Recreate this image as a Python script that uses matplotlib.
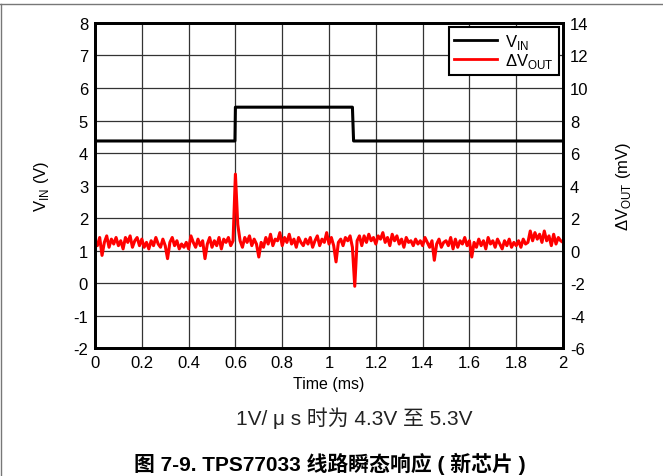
import numpy as np
import matplotlib
matplotlib.use("Agg")
import matplotlib.pyplot as plt
from matplotlib.lines import Line2D

plt.rcParams['font.family'] = ['Liberation Sans', 'Noto Sans CJK SC', 'DejaVu Sans']
plt.rcParams['mathtext.fontset'] = 'custom'
plt.rcParams['mathtext.rm'] = 'Liberation Sans'
plt.rcParams['axes.unicode_minus'] = False

# VIN step (V)
vin_t = [0.0, 0.598, 0.6, 1.1, 1.105, 2.0]
vin_v = [4.37, 4.37, 5.41, 5.41, 4.37, 4.37]

# delta VOUT (mV), sampled every 0.01 ms from 0 to 2 ms
dvout = [
    0.6, 0.3, 0.8, -0.3, 0.5, 0.9, 0.2, 0.7, 0.4, 0.8,
    0.3, 0.6, 0.1, 0.8, 0.5, 0.9, 0.2, 0.6, 0.8, 0.3,
    0.7, 0.2, 0.5, 0.1, 0.6, 0.3, 0.8, 0.4, 0.2, 0.7,
    0.3, -0.5, 0.5, 0.8, 0.3, 0.6, 0.1, 0.4, 0.2, 0.5,
    0.1, 0.9, 0.5, 0.2, 0.7, 0.3, 0.6, -0.5, 0.4, 0.8,
    0.2, 0.6, 0.3, 0.8, 0.1, 0.7, 0.5, 0.8, 0.3, 0.6,
    4.7, 1.6, 0.6, 0.2, 0.8, 0.5, 0.9, 0.3, 0.7, 0.4,
    -0.4, 0.5, 0.2, 0.8, 0.4, 1.0, 0.3, 0.7, 0.6, 1.1,
    0.3, 0.8, 0.5, 1.0, 0.4, 0.7, 0.2, 0.8, 0.5, 0.3,
    0.7, 0.4, 0.8, 0.2, 0.6, 0.9, 0.3, 0.7, 0.5, 1.1,
    0.4, 0.8, 0.3, -0.7, 0.5, 0.7, 0.3, 0.8, 0.6, 0.9,
    0.2, -2.2, 0.6, 0.9, 0.3, 0.9, 0.5, 1.0, 0.6, 0.8,
    0.4, 0.9, 0.7, 1.1, 0.5, 0.8, 0.3, 1.0, 0.6, 0.9,
    0.4, 0.7, 0.2, 0.8, 0.5, 0.6, 0.3, 0.7, 0.4, 0.6,
    0.3, 0.8, 0.5, 0.2, 0.6, -0.6, 0.4, 0.7, 0.2, 0.5,
    0.6, 0.3, 0.8, 0.1, 0.7, 0.2, 0.6, 0.4, 0.8, 0.3,
    0.6, -0.4, 0.5, 0.2, 0.7, 0.3, 0.6, 0.1, 0.8, 0.4,
    0.6, 0.2, 0.7, 0.4, 0.1, 0.6, 0.3, 0.7, 0.2, 0.5,
    0.3, 0.6, 0.2, 0.7, 0.4, 0.5, 1.2, 0.6, 1.1, 0.7,
    1.0, 0.5, 1.2, 0.6, 0.9, 0.3, 1.0, 0.4, 0.8, 0.6,
    0.5,
]
dvout_t = np.linspace(0, 2, len(dvout))

x_ticks = [0, 0.2, 0.4, 0.6, 0.8, 1, 1.2, 1.4, 1.6, 1.8, 2]
x_labels = ['0', '0.2', '0.4', '0.6', '0.8', '1', '1.2', '1.4', '1.6', '1.8', '2']

fig = plt.figure(figsize=(6.63, 4.77), dpi=100)
ax = fig.add_axes([0.1433, 0.2683, 0.7059, 0.6814])
ax2 = ax.twinx()

ax.set_xlim(0, 2)
ax.set_ylim(-2, 8)
ax2.set_ylim(-6, 14)
ax.set_xticks(x_ticks)
ax.set_xticklabels(x_labels)
ax.set_yticks(range(-2, 9))
ax2.set_yticks(range(-6, 15, 2))
ax.grid(True, color='#333333', linewidth=0.9)
ax.set_axisbelow(True)

for a in (ax, ax2):
    a.tick_params(length=0, labelsize=12, pad=5)
    for s in a.spines.values():
        s.set_linewidth(2)

ax.plot(vin_t, vin_v, color='black', linewidth=2.2, zorder=3)
ax2.plot(dvout_t, dvout, color='red', linewidth=2.2)

ax.set_xlabel('Time (ms)', fontsize=11.5, labelpad=4)
ax.set_ylabel(r'V$_\mathregular{IN}$ (V)', fontsize=12, labelpad=16)
ax2.set_ylabel(r'$\Delta$V$_\mathregular{OUT}$ (mV)', fontsize=12, labelpad=18)

handles = [Line2D([], [], color='black', linewidth=2),
           Line2D([], [], color='red', linewidth=2)]
leg = ax2.legend(handles, [r'V$_\mathregular{IN}$', r'$\Delta$V$_\mathregular{OUT}$'],
                 loc='upper right', fontsize=12, fancybox=False, framealpha=1,
                 borderaxespad=0.25, handlelength=2.6, labelspacing=0.0,
                 borderpad=0.3, handletextpad=0.5)
leg.get_frame().set_edgecolor('black')
leg.get_frame().set_linewidth(1.5)

fig.text(0.535, 0.123, '1V/ μ s 时为 4.3V 至 5.3V', ha='center', va='center',
         fontsize=15, family=['Liberation Sans', 'Noto Sans CJK SC'], color='#222222')
fig.text(0.498, 0.028, '图 7-9. TPS77033 线路瞬态响应 ( 新芯片 )', ha='center', va='center',
         fontsize=15, fontweight='bold', family=['Liberation Sans', 'Noto Sans CJK SC'])

# page border lines
fig.add_artist(Line2D([0, 1], [0.99, 0.99], color='#777777', linewidth=1))
fig.add_artist(Line2D([0.002, 0.002], [0, 0.99], color='#777777', linewidth=1))

fig.savefig('out.png', dpi=100)
